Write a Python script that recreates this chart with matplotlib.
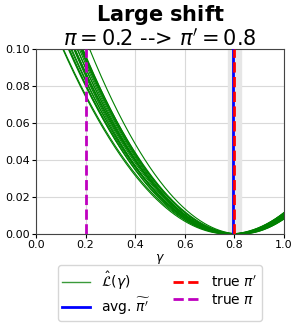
import numpy as np
import matplotlib
matplotlib.use("Agg")
import matplotlib.pyplot as plt

# curve parameters (minimum location and curvature)
minima = [0.79, 0.80, 0.775, 0.81, 0.80, 0.785, 0.825, 0.80, 0.79, 0.815,
          0.80, 0.78, 0.81, 0.795, 0.805, 0.82, 0.80, 0.81, 0.785, 0.80]
curv = [0.24, 0.25, 0.225, 0.26, 0.225, 0.25, 0.27, 0.24, 0.23, 0.25,
        0.26, 0.24, 0.235, 0.26, 0.245, 0.25, 0.23, 0.235, 0.22, 0.265]
avg_pi_prime = 0.794
true_pi_prime = 0.8
true_pi = 0.2
span_lo, span_hi = 0.776, 0.826

fig = plt.figure(figsize=(2.99, 3.25), dpi=100)
ax = fig.add_axes([0.120, 0.280, 0.830, 0.569])

gam = np.linspace(0, 1, 400)
for i, (m, a) in enumerate(zip(minima, curv)):
    ax.plot(gam, a * (gam - m) ** 2, color="green", lw=0.8,
            label=r"$\hat{\mathcal{L}}(\gamma)$" if i == 0 else None, zorder=2)

ax.axvspan(span_lo, span_hi, color="#e6e6e6", zorder=1)
ax.axvline(avg_pi_prime, color="blue", lw=2, label=r"avg. $\widetilde{\pi'}$", zorder=3)
ax.axvline(true_pi_prime, color="red", lw=2, ls="--", label=r"true $\pi'$", zorder=4)
ax.axvline(true_pi, color="m", lw=2, ls="--", label=r"true $\pi$", zorder=4)

ax.set_xlim(0, 1)
ax.set_ylim(0, 0.1)
ax.set_xticks([0, 0.2, 0.4, 0.6, 0.8, 1.0])
ax.set_yticks([0, 0.02, 0.04, 0.06, 0.08, 0.10])
ax.set_xticklabels(["0.0", "0.2", "0.4", "0.6", "0.8", "1.0"])
ax.set_yticklabels(["0.00", "0.02", "0.04", "0.06", "0.08", "0.10"])
ax.tick_params(labelsize=8, length=3, pad=1)
ax.grid(True, color="#d9d9d9", lw=0.8, zorder=0)
ax.set_axisbelow(True)
ax.set_xlabel(r"$\gamma$", fontsize=9, labelpad=2)
for s in ax.spines.values():
    s.set_color("#444444")

ax.set_title("$\\bf{Large\\ shift}$\n$\\pi=0.2$ --> $\\pi'=0.8$", fontsize=15,
             linespacing=1.0, pad=3)

handles, labels = ax.get_legend_handles_labels()
leg = fig.legend(handles, labels,
                 ncol=2, loc="center", bbox_to_anchor=(0.535, 0.0985),
                 fontsize=10, frameon=True, handlelength=2.0, columnspacing=1.6,
                 labelspacing=0.25, borderpad=0.3)
leg.legend_handles[0].set_color("#3a9a3a")
leg.legend_handles[0].set_linewidth(1.0)

fig.savefig("out.png", dpi=100)
